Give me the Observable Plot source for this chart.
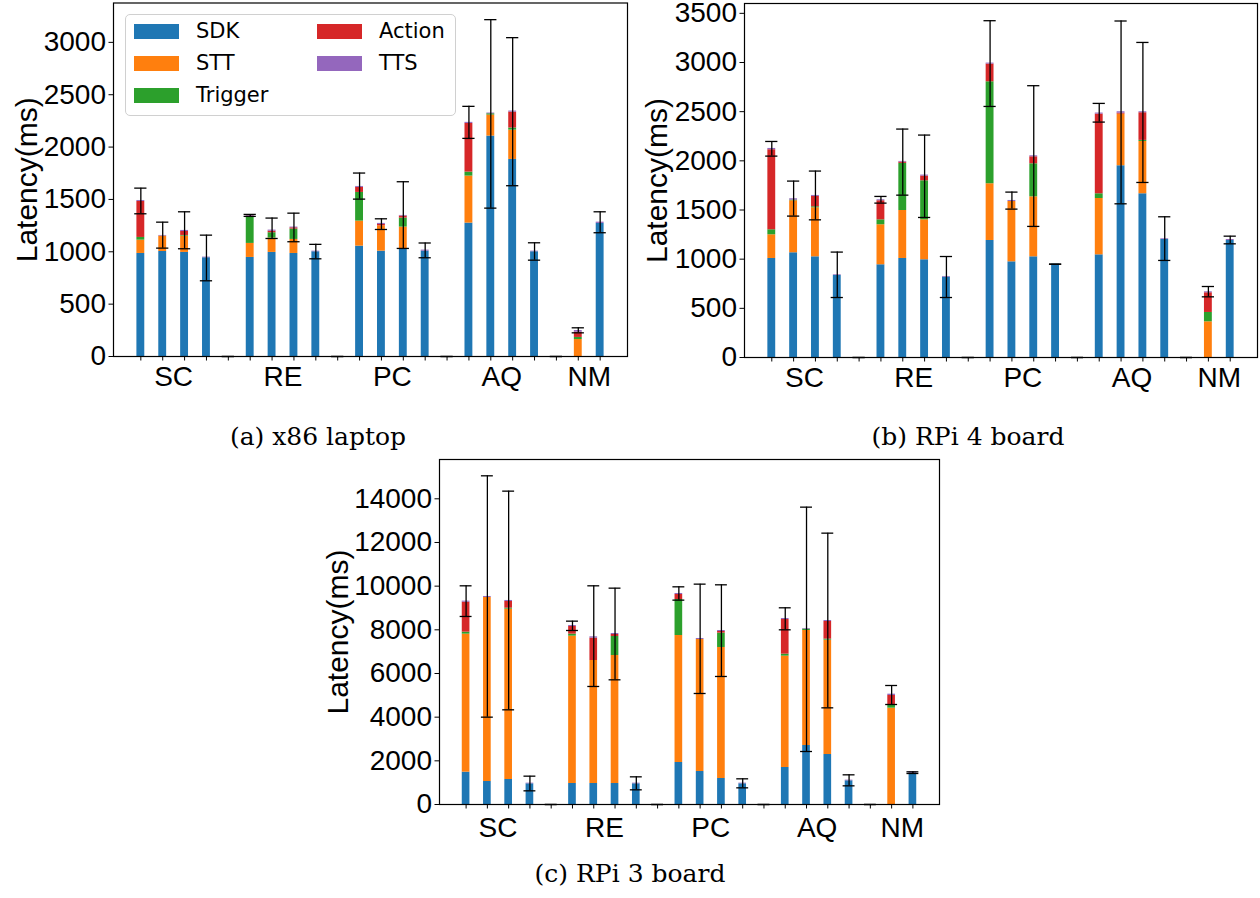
<!DOCTYPE html>
<html><head><meta charset="utf-8">
<script src="https://cdn.jsdelivr.net/npm/d3@7"></script>
<script src="https://cdn.jsdelivr.net/npm/@observablehq/plot@0.6"></script>
<style>
body{margin:0;background:#fff;width:1260px;height:898px;position:relative;overflow:hidden}
.panel{position:absolute}
.cap{position:absolute;font-family:"DejaVu Serif",serif;font-size:25px;line-height:30px;transform:translateX(-50%);white-space:nowrap;color:#000}
.legend{position:absolute;left:125px;top:14px;width:331px;height:102px;border:1px solid #d0d0d0;border-radius:5px;background:rgba(255,255,255,0.8);box-sizing:border-box;z-index:5}
.sw{position:absolute;width:45px;height:15px}
.lt{position:absolute;font-family:"DejaVu Sans",sans-serif;font-size:21px;line-height:24px;color:#000}
</style></head>
<body>
<div id="pa" class="panel" style="left:0;top:0"></div>
<div id="pb" class="panel" style="left:630px;top:0"></div>
<div id="pc" class="panel" style="left:300px;top:440px"></div>
<div id="legend" class="legend"></div>
<div class="cap" style="left:318px;top:422px">(a) x86 laptop</div>
<div class="cap" style="left:968px;top:422px">(b) RPi 4 board</div>
<div class="cap" style="left:630px;top:859px">(c) RPi 3 board</div>
<script>
const groups = ["SC", "RE", "PC", "AQ", "NM"];
const groupCenters = [1.5, 6.5, 11.5, 16.5, 20.5];
const seriesNames = ["SDK", "STT", "Trigger", "Action", "TTS"];
const seriesColors = ["#1f77b4", "#ff7f0e", "#2ca02c", "#d62728", "#9467bd"];
const yLabel = "Latency(ms)";

// (a) x86 laptop — 22 slots: SC x4, gap, RE x4, gap, PC x4, gap, AQ x4, gap, NM x2
const x86SDK     = [984,1003,994,943,0, 946,994,984,1000,0, 1054,1006,1029,1006,0, 1274,2105,1882,1000,0, 0,1271];
const x86STT     = [127,147,156,0,0, 134,137,134,0,0, 239,242,207,0,0, 449,201,280,0,0, 162,0];
const x86Trigger = [26,0,6,0,0, 251,51,99,0,0, 274,0,86,0,0, 38,12,20,0,0, 20,0];
const x86Action  = [344,0,38,0,0, 10,15,12,0,0, 48,13,19,0,0, 465,0,152,0,0, 50,0];
const x86TTS     = [9,6,10,6,0, 12,10,7,6,0, 9,10,6,10,0, 10,7,10,6,0, 16,12];
const x86ErrLow  = [1363,1035,1029,723,0, 1338,1127,1096,933,0, 1503,1213,1032,943,0, 2083,1417,1631,920,0, 226,1182];
const x86ErrHigh = [1608,1283,1382,1159,0, 1357,1322,1369,1071,0, 1752,1315,1669,1084,0, 2389,3217,3045,1086,0, 274,1382];
const x86Ticks   = [0, 500, 1000, 1500, 2000, 2500, 3000];

// (b) RPi 4 board
const rpi4SDK     = [1007,1065,1024,834,0, 943,1007,994,817,0, 1190,973,1024,949,0, 1044,1950,1665,1200,0, 0,1190];
const rpi4STT     = [241,529,499,0,0, 407,488,406,0,0, 577,614,610,0,0, 573,525,532,0,0, 363,0];
const rpi4Trigger = [51,7,10,0,0, 50,479,397,0,0, 1037,0,336,0,0, 48,0,11,0,0, 95,0];
const rpi4Action  = [814,0,105,0,0, 194,13,48,0,0, 180,0,71,0,0, 810,10,281,0,0, 200,0];
const rpi4TTS     = [13,13,10,7,0, 10,7,10,7,0, 10,10,10,0,0, 11,14,10,7,0, 10,10];
const rpi4ErrLow  = [2048,1438,1400,610,0, 1570,1651,1424,610,0, 2553,1509,1333,949,0, 2394,1563,1780,987,0, 617,1156];
const rpi4ErrHigh = [2197,1794,1896,1072,0, 1638,2323,2262,1027,0, 3425,1682,2764,949,0, 2584,3422,3204,1431,0, 722,1234];
const rpi4Ticks   = [0, 500, 1000, 1500, 2000, 2500, 3000, 3500];

// (c) RPi 3 board
const rpi3SDK     = [1481,1053,1145,947,0, 962,962,962,947,0, 1924,1511,1191,947,0, 1695,2702,2290,1084,0, 0,1435];
const rpi3STT     = [6321,8428,7802,0,0, 6748,5633,5862,0,0, 5816,6046,6000,0,0, 5099,5267,5237,0,0, 4412,0];
const rpi3Trigger = [91,0,45,0,0, 92,0,871,0,0, 1649,0,656,0,0, 91,62,46,0,0, 138,0];
const rpi3Action  = [1374,0,306,0,0, 351,1023,91,0,0, 229,0,77,0,0, 1588,0,809,0,0, 442,0];
const rpi3TTS     = [46,46,46,30,0, 45,61,46,30,0, 46,46,45,30,0, 46,30,45,31,0, 61,61];
const rpi3ErrLow  = [8611,4000,4336,626,0, 7969,5405,5710,672,0, 9359,5084,5863,763,0, 8000,2427,4427,855,0, 4580,1420];
const rpi3ErrHigh = [10015,15053,14351,1298,0, 8397,10015,9908,1267,0, 9969,10092,10061,1176,0, 9008,13618,12427,1359,0, 5450,1496];
const rpi3Ticks   = [0, 2000, 4000, 6000, 8000, 10000, 12000, 14000];

const slots = d3.range(x86SDK.length);

function segments(series) {
  const rows = [];
  for (const i of slots) {
    let base = 0;
    series.forEach((arr, s) => {
      const v = arr[i];
      if (v > 0) rows.push({slot: i, series: seriesNames[s], y1: base, y2: base + v});
      base += v;
    });
  }
  return rows;
}
function errors(lo, hi) {
  return slots.map(i => ({slot: i, lo: lo[i], hi: hi[i]}));
}

function panel(cfg) {
  const segs = segments(cfg.series);
  const errs = errors(cfg.lo, cfg.hi);
  const hw = 0.18, cw = 0.28;
  return Plot.plot({
    width: cfg.width, height: cfg.height,
    marginLeft: cfg.ml, marginRight: cfg.mr, marginTop: cfg.mt, marginBottom: cfg.mb,
    x: {domain: [-1.25, 22.25]},
    y: {domain: [0, cfg.ymax]},
    color: {domain: seriesNames, range: seriesColors},
    style: {fontFamily: "'Liberation Sans', Arial, sans-serif", background: "white", color: "black", overflow: "visible"},
    marks: [
      Plot.rect(segs, {x1: d => d.slot - hw, x2: d => d.slot + hw, y1: "y1", y2: "y2", fill: "series"}),
      Plot.ruleX(errs, {x: "slot", y1: "lo", y2: "hi", stroke: "black", strokeWidth: 1.3}),
      Plot.ruleY(errs, {y: "lo", x1: d => d.slot - cw, x2: d => d.slot + cw, stroke: "black", strokeWidth: 1.3}),
      Plot.ruleY(errs, {y: "hi", x1: d => d.slot - cw, x2: d => d.slot + cw, stroke: "black", strokeWidth: 1.3}),
      Plot.axisY({ticks: cfg.ticks, tickFormat: "d", tickSize: 4.5, tickPadding: 3, fontSize: 28, label: null}),
      Plot.axisX({ticks: slots, tickFormat: () => "", tickSize: 4.5, label: null}),
      Plot.axisX({ticks: groupCenters, tickFormat: d => groups[groupCenters.indexOf(d)], tickSize: 0, tickPadding: cfg.xpad, fontSize: 28, label: null}),
      Plot.frame({stroke: "black", strokeWidth: 1.2}),
      Plot.text([yLabel], {text: d => d, frameAnchor: "left", textAnchor: "middle", dx: cfg.ldx, rotate: -90, fontSize: 30})
    ]
  });
}

document.getElementById("pa").append(panel({
  series: [x86SDK, x86STT, x86Trigger, x86Action, x86TTS], lo: x86ErrLow, hi: x86ErrHigh, ticks: x86Ticks,
  ymax: 3376, width: 640, height: 400, ml: 113, mr: 13, mt: 2.5, mb: 44, ldx: -86, xpad: 10
}));
document.getElementById("pb").append(panel({
  series: [rpi4SDK, rpi4STT, rpi4Trigger, rpi4Action, rpi4TTS], lo: rpi4ErrLow, hi: rpi4ErrHigh, ticks: rpi4Ticks,
  ymax: 3600, width: 630, height: 400, ml: 114, mr: 3, mt: 3, mb: 43, ldx: -87, xpad: 10
}));
document.getElementById("pc").append(panel({
  series: [rpi3SDK, rpi3STT, rpi3Trigger, rpi3Action, rpi3TTS], lo: rpi3ErrLow, hi: rpi3ErrHigh, ticks: rpi3Ticks,
  ymax: 15800, width: 660, height: 420, ml: 139, mr: 21, mt: 19, mb: 56, ldx: -101, xpad: 13
}));

// legend (two columns, inside panel a)
const legend = document.getElementById("legend");
const legendCols = [[0, 1, 2], [3, 4]];
legendCols.forEach((col, c) => {
  col.forEach((s, r) => {
    const sw = document.createElement("div");
    sw.className = "sw";
    sw.style.left = (c === 0 ? 8 : 191) + "px";
    sw.style.top = (9 + r * 32) + "px";
    sw.style.background = seriesColors[s];
    const t = document.createElement("div");
    t.className = "lt";
    t.style.left = (c === 0 ? 70 : 253) + "px";
    t.style.top = (4 + r * 32) + "px";
    t.textContent = seriesNames[s];
    legend.append(sw, t);
  });
});
</script>
</body></html>
